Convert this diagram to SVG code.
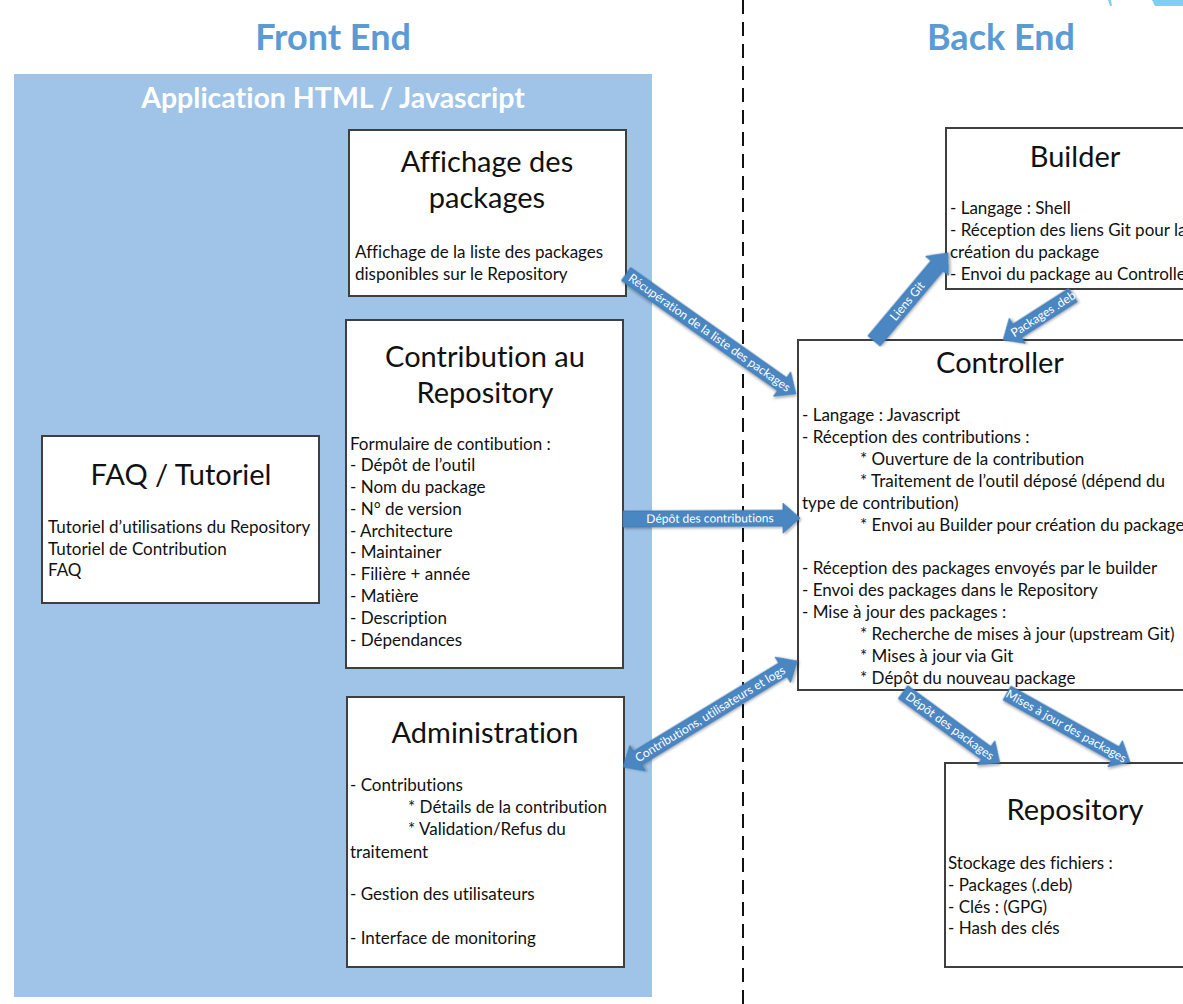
<svg xmlns="http://www.w3.org/2000/svg" width="1183" height="1004" viewBox="0 0 1183 1004">
<defs>
<style>
text{font-variant-ligatures:none}
.hdr{font-family:Lato,"Open Sans",sans-serif;font-weight:bold;fill:#5B9BD5;font-size:36px;text-anchor:middle}
.app{font-family:Lato,"Open Sans",sans-serif;font-weight:bold;fill:#ffffff;font-size:28.5px;text-anchor:middle}
.box{fill:#ffffff;stroke:#3f3f3f;stroke-width:2}
.ttl{font-family:Lato,"Open Sans",sans-serif;font-size:29px;fill:#111;text-anchor:middle}
.txt{font-family:Lato,"Open Sans",sans-serif;font-size:17px;fill:#111}
.arr{fill:#4A86C2;stroke:#3F77AF;stroke-width:0.8;filter:url(#sh)}
.lbl{font-family:Lato,"Open Sans",sans-serif;font-size:12px;fill:#ffffff;text-anchor:middle}
</style>
<filter id="sh" x="-20%" y="-50%" width="140%" height="200%">
<feDropShadow dx="1.5" dy="1.5" stdDeviation="1.2" flood-color="#000" flood-opacity="0.3"/>
</filter>
</defs>
<rect width="1183" height="1004" fill="#ffffff"/>
<path d="M1108,0 L1111,0 L1112,6 L1110,6 Z M1152,0 L1183,0 L1183,6 L1155,6 Z" fill="#7ECFF0"/>
<g id="panel">
<rect x="14" y="74" width="638" height="923" fill="#9FC4E7"/>
<text class="app" x="333" y="108">Application HTML / Javascript</text>
</g>
<text class="hdr" x="333" y="50">Front End</text>
<text class="hdr" x="1001" y="50">Back End</text>
<line x1="743" y1="0" x2="743" y2="1004" stroke="#111" stroke-width="2" stroke-dasharray="14,8"/>

<g id="affichage">
<rect class="box" x="349" y="130" width="277" height="166"/>
<text class="ttl" x="487" y="172">Affichage des</text>
<text class="ttl" x="487" y="208">packages</text>
<text class="txt" x="355" y="258">Affichage de la liste des packages</text>
<text class="txt" x="355" y="280">disponibles sur le Repository</text>
</g>

<g id="contribution">
<rect class="box" x="346" y="320" width="277" height="348"/>
<text class="ttl" x="485" y="367">Contribution au</text>
<text class="ttl" x="485" y="403">Repository</text>
<text class="txt" x="350" y="450">Formulaire de contibution :</text>
<text class="txt" x="350" y="471">- Dépôt de l’outil</text>
<text class="txt" x="350" y="493">- Nom du package</text>
<text class="txt" x="350" y="515">- N° de version</text>
<text class="txt" x="350" y="537">- Architecture</text>
<text class="txt" x="350" y="558">- Maintainer</text>
<text class="txt" x="350" y="580">- Filière + année</text>
<text class="txt" x="350" y="602">- Matière</text>
<text class="txt" x="350" y="624">- Description</text>
<text class="txt" x="350" y="646">- Dépendances</text>
</g>

<g id="faq">
<rect class="box" x="42" y="436" width="277" height="167"/>
<text class="ttl" x="181" y="485">FAQ / Tutoriel</text>
<text class="txt" x="48" y="533">Tutoriel d’utilisations du Repository</text>
<text class="txt" x="48" y="555">Tutoriel de Contribution</text>
<text class="txt" x="48" y="576">FAQ</text>
</g>

<g id="administration">
<rect class="box" x="347" y="697" width="277" height="270"/>
<text class="ttl" x="485" y="743">Administration</text>
<text class="txt" x="350" y="791">- Contributions</text>
<text class="txt" x="408" y="813">* Détails de la contribution</text>
<text class="txt" x="408" y="835">* Validation/Refus du</text>
<text class="txt" x="350" y="858">traitement</text>
<text class="txt" x="350" y="900">- Gestion des utilisateurs</text>
<text class="txt" x="350" y="944">- Interface de monitoring</text>
</g>

<g id="builder">
<rect class="box" x="946" y="128" width="260" height="161"/>
<text class="ttl" x="1075" y="167">Builder</text>
<text class="txt" x="950" y="214">- Langage : Shell</text>
<text class="txt" x="950" y="236">- Réception des liens Git pour la</text>
<text class="txt" x="950" y="258">création du package</text>
<text class="txt" x="950" y="280">- Envoi du package au Controller</text>
</g>

<g id="controller">
<rect class="box" x="798" y="340" width="420" height="350"/>
<text class="ttl" x="1000" y="373">Controller</text>
<text class="txt" x="802" y="421">- Langage : Javascript</text>
<text class="txt" x="802" y="443">- Réception des contributions :</text>
<text class="txt" x="860" y="465">* Ouverture de la contribution</text>
<text class="txt" x="860" y="487">* Traitement de l’outil déposé (dépend du</text>
<text class="txt" x="802" y="509">type de contribution)</text>
<text class="txt" x="860" y="531">* Envoi au Builder pour création du package</text>
<text class="txt" x="802" y="574">- Réception des packages envoyés par le builder</text>
<text class="txt" x="802" y="596">- Envoi des packages dans le Repository</text>
<text class="txt" x="802" y="618">- Mise à jour des packages :</text>
<text class="txt" x="860" y="640">* Recherche de mises à jour (upstream Git)</text>
<text class="txt" x="860" y="662">* Mises à jour via Git</text>
<text class="txt" x="860" y="684">* Dépôt du nouveau package</text>
</g>

<g id="repository">
<rect class="box" x="945" y="763" width="260" height="204"/>
<text class="ttl" x="1075" y="820">Repository</text>
<text class="txt" x="948" y="869">Stockage des fichiers :</text>
<text class="txt" x="948" y="891">- Packages (.deb)</text>
<text class="txt" x="948" y="913">- Clés : (GPG)</text>
<text class="txt" x="948" y="934">- Hash des clés</text>
</g>

<g id="connectors">
<g transform="translate(626,274) rotate(35.2)">
<path class="arr" d="M0,-8 L191,-8 L191,-15 L208,0 L191,15 L191,8 L0,8 Z"/>
<text class="lbl" x="102" y="4">Récupération de la liste des packages</text>
</g>
<g transform="translate(623,519) rotate(-0.3)">
<path class="arr" d="M0,-8 L160,-8 L160,-15 L177,0 L160,15 L160,8 L0,8 Z"/>
<text class="lbl" x="87" y="4">Dépôt des contributions</text>
</g>
<g transform="translate(623,767) rotate(-31.3)">
<path class="arr" d="M0,0 L17,-15 L17,-8 L187,-8 L187,-15 L204,0 L187,15 L187,8 L17,8 L17,15 Z"/>
<text class="lbl" x="102" y="4">Contributions, utilisateurs et logs</text>
</g>
<g transform="translate(874,341) rotate(-50)">
<path class="arr" d="M0,-8 L98,-8 L98,-15 L115,0 L98,15 L98,8 L0,8 Z"/>
<text class="lbl" x="52" y="4">Liens Git</text>
</g>
<g transform="translate(1003,340) rotate(-32.7)">
<path class="arr" d="M0,0 L17,-15 L17,-8 L83,-8 L83,8 L17,8 L17,15 Z"/>
<text class="lbl" x="48" y="4">Packages .deb</text>
</g>
<g transform="translate(903,692) rotate(36.2)">
<path class="arr" d="M0,-8 L103,-8 L103,-15 L120,0 L103,15 L103,8 L0,8 Z"/>
<text class="lbl" x="58" y="4">Dépôt des packages</text>
</g>
<g transform="translate(1007,693) rotate(29.3)">
<path class="arr" d="M0,-8 L124,-8 L124,-15 L141,0 L124,15 L124,8 L0,8 Z"/>
<text class="lbl" x="68" y="4">Mises à jour des packages</text>
</g>
</g>
</svg>
